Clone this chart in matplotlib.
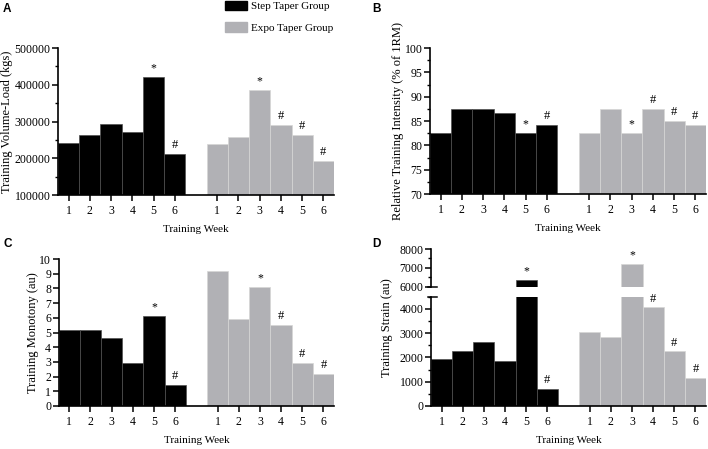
import matplotlib
matplotlib.use("Agg")
import matplotlib.pyplot as plt
from matplotlib.patches import Patch
from matplotlib.ticker import MultipleLocator

plt.rcParams['font.family'] = ['Liberation Serif', 'DejaVu Serif']

weeks = ['1', '2', '3', '4', '5', '6']

# A - training volume-load (kgs)
vol_step = [242500, 264500, 292800, 272600, 421800, 211800]
vol_expo = [239900, 259000, 384500, 290000, 263600, 191800]
# B - relative intensity (% of 1RM)
int_step = [82.5, 87.5, 87.5, 86.7, 82.5, 84.2]
int_expo = [82.5, 87.5, 82.5, 87.5, 85.0, 84.2]
# C - monotony (au)
mon_step = [5.15, 5.15, 4.62, 2.91, 6.13, 1.45]
mon_expo = [9.18, 5.93, 8.07, 5.52, 2.91, 2.20]
# D - strain (au)
str_step = [1950, 2240, 2610, 1860, 6340, 690]
str_expo = [3050, 2840, 7190, 4050, 2240, 1150]

# significance marks per week
marks_step = ['', '', '', '', '*', '#']
marks_expo = ['', '', '*', '#', '#', '#']

black = '#000000'
grey = '#b1b1b5'
W, H = 708, 449

pos_step = [0, 1, 2, 3, 4, 5]
pos_expo = [7, 8, 9, 10, 11, 12]


def frac(l, t, r, b):
    return [l / W, 1 - b / H, (r - l) / W, (b - t) / H]


def style(ax):
    for s in ['top', 'right']:
        ax.spines[s].set_visible(False)
    ax.spines['left'].set_linewidth(1.2)
    ax.spines['bottom'].set_linewidth(1.2)
    ax.tick_params(direction='out', length=4, width=1.1, labelsize=8.5, pad=1.5)
    ax.tick_params(which='minor', direction='out', length=2.5, width=1.0)
    ax.set_xlim(-0.5, 12.5)


def bars(ax, ys, ye, lo=None, hi=None):
    ax.bar(pos_step, ys, width=1, color=black, edgecolor='#505050', linewidth=0.5)
    ax.bar(pos_expo, ye, width=1, color=grey, edgecolor='#d6d6d6', linewidth=0.5)
    for p, v, m in zip(pos_step + pos_expo, ys + ye, marks_step + marks_expo):
        if not m:
            continue
        if lo is not None and v < lo:
            continue
        if hi is not None and v > hi:
            continue
        ax.annotate(m, (p, v), xytext=(0, 2), textcoords='offset points',
                    ha='center', va='bottom', fontsize=9 if m == '#' else 8.5)


def xaxis(ax):
    ax.set_xticks(pos_step + pos_expo)
    ax.set_xticklabels(weeks + weeks)
    ax.tick_params(axis='x', pad=3)
    ax.set_xlabel('Training Week', fontsize=8, labelpad=6)


fig = plt.figure(figsize=(W / 100, H / 100), dpi=100)

# A
axA = fig.add_axes(frac(58, 48, 334, 195))
bars(axA, vol_step, vol_expo)
style(axA)
axA.set_ylim(100000, 500000)
axA.yaxis.set_major_locator(MultipleLocator(100000))
axA.yaxis.set_minor_locator(MultipleLocator(50000))
xaxis(axA)
axA.set_ylabel('Training Volume-Load (kgs)', fontsize=9, labelpad=1)

# B
axB = fig.add_axes(frac(430, 48, 706, 194))
bars(axB, int_step, int_expo)
style(axB)
axB.set_ylim(70, 100)
axB.yaxis.set_major_locator(MultipleLocator(5))
axB.yaxis.set_minor_locator(MultipleLocator(2.5))
xaxis(axB)
axB.set_ylabel('Relative Training Intensity (% of 1RM)', fontsize=9, labelpad=0)

# C
axC = fig.add_axes(frac(58.7, 259, 334, 406))
bars(axC, mon_step, mon_expo)
style(axC)
axC.set_ylim(0, 10)
axC.yaxis.set_major_locator(MultipleLocator(1))
xaxis(axC)
axC.set_ylabel('Training Monotony (au)', fontsize=9, labelpad=0)

# D - broken axis
axD = fig.add_axes(frac(431, 296.5, 706, 406))
axDu = fig.add_axes(frac(431, 249, 706, 286.5))
bars(axD, str_step, str_expo, hi=4500)
style(axD)
axD.set_ylim(0, 4500)
axD.set_yticks([0, 1000, 2000, 3000, 4000])
axD.yaxis.set_minor_locator(MultipleLocator(500))
xaxis(axD)
axD.plot([-0.012, 0.02], [1, 1], transform=axD.transAxes, color='black',
         lw=1.1, clip_on=False)

bars(axDu, str_step, str_expo, lo=6000)
style(axDu)
axDu.spines['bottom'].set_visible(False)
axDu.tick_params(axis='x', bottom=False, labelbottom=False)
axDu.set_ylim(6000, 8000)
axDu.set_yticks([6000, 7000, 8000])
axDu.yaxis.set_minor_locator(MultipleLocator(500))
axDu.plot([-0.012, 0.02], [0, 0], transform=axDu.transAxes, color='black',
          lw=1.1, clip_on=False)
fig.text(387 / W, 1 - 328 / H, 'Training Strain (au)', rotation=90,
         ha='center', va='center', fontsize=9)

# panel letters
for lab, x, y in [('A', 3, 9), ('B', 372, 9), ('C', 3, 244), ('D', 372, 244)]:
    fig.text(x / W, 1 - y / H, lab, fontsize=8.5, fontweight='bold',
             family='Liberation Sans', ha='left', va='center')

# legend
handles = [Patch(facecolor=black, edgecolor=black, label='Step Taper Group'),
           Patch(facecolor=grey, edgecolor=grey, label='Expo Taper Group')]
fig.legend(handles=handles, loc='upper left', bbox_to_anchor=(225 / W, 1 - 0.5 / H),
           frameon=False, fontsize=8, handlelength=2.0, handleheight=1.0,
           handletextpad=0.3, labelspacing=0.95, borderpad=0, borderaxespad=0)

fig.savefig('out.png', dpi=100)
